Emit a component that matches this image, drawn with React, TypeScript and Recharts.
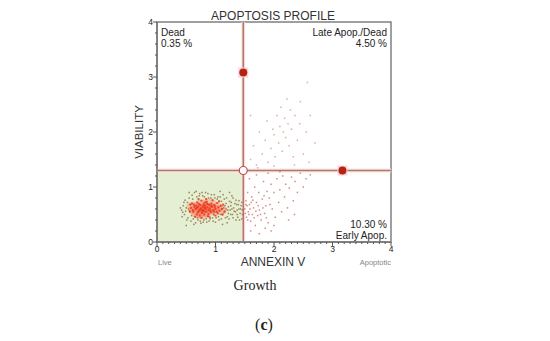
import React from "react";
import {
  ScatterChart,
  Scatter,
  XAxis,
  YAxis,
  ReferenceLine,
  ReferenceArea,
} from "recharts";

// ---- data ----
const gateX = 1.475;
const gateY = 1.3;

const quadrantLabels = {
  ul: ["Dead", "0.35 %"],
  ur: ["Late Apop./Dead", "4.50 %"],
  ll: ["84.85 %", "Live"],
  lr: ["10.30 %", "Early Apop."],
};

const coreBlobs = [
  [0.72, 0.62], [0.8, 0.6], [0.88, 0.62], [0.66, 0.58], [0.76, 0.68],
  [0.84, 0.54], [0.95, 0.6], [0.7, 0.52], [1.02, 0.62], [0.62, 0.64],
  [0.9, 0.7], [1.08, 0.58], [0.78, 0.5],
];

const corePoints = [
  [0.58, 0.62], [0.62, 0.55], [0.63, 0.68], [0.66, 0.6], [0.68, 0.5], [0.69, 0.72],
  [0.7, 0.64], [0.72, 0.57], [0.73, 0.48], [0.74, 0.67], [0.75, 0.61], [0.76, 0.75],
  [0.77, 0.53], [0.78, 0.63], [0.79, 0.58], [0.8, 0.7], [0.81, 0.5], [0.82, 0.66],
  [0.83, 0.6], [0.84, 0.55], [0.85, 0.73], [0.86, 0.63], [0.87, 0.47], [0.88, 0.58],
  [0.89, 0.68], [0.9, 0.61], [0.92, 0.54], [0.93, 0.7], [0.94, 0.64], [0.96, 0.58],
  [0.97, 0.5], [0.98, 0.67], [1.0, 0.6], [1.02, 0.55], [1.03, 0.71], [1.05, 0.63],
  [1.07, 0.57], [1.09, 0.66], [0.6, 0.7], [0.65, 0.46], [0.71, 0.78], [0.76, 0.44],
  [0.84, 0.78], [0.9, 0.45], [0.95, 0.76], [1.0, 0.48], [0.64, 0.64], [0.7, 0.54],
  [0.8, 0.56], [0.88, 0.51], [0.72, 0.69], [0.79, 0.66], [0.67, 0.66], [0.74, 0.59],
  [0.82, 0.62], [0.86, 0.69], [0.91, 0.57], [0.99, 0.64], [1.04, 0.52], [1.11, 0.6],
  [0.61, 0.58], [0.68, 0.62], [0.77, 0.57], [0.83, 0.72], [0.92, 0.66], [0.97, 0.55],
  [1.13, 0.68], [1.15, 0.55], [1.12, 0.5], [0.56, 0.56], [0.57, 0.68], [1.06, 0.74],
];

const outerPoints = [
  [0.42, 0.58], [0.45, 0.66], [0.47, 0.5], [0.5, 0.62], [0.52, 0.72], [0.53, 0.44],
  [0.55, 0.8], [0.56, 0.54], [0.58, 0.38], [0.6, 0.85], [0.62, 0.42], [0.64, 0.9],
  [0.66, 0.35], [0.68, 0.82], [0.7, 0.4], [0.73, 0.88], [0.75, 0.34], [0.78, 0.84],
  [0.8, 0.4], [0.83, 0.9], [0.85, 0.36], [0.88, 0.8], [0.91, 0.42], [0.93, 0.86],
  [0.96, 0.38], [0.99, 0.8], [1.01, 0.44], [1.04, 0.82], [1.06, 0.4], [1.1, 0.74],
  [1.12, 0.5], [1.14, 0.62], [1.16, 0.56], [1.18, 0.7], [1.2, 0.46], [1.22, 0.64],
  [1.25, 0.58], [1.27, 0.72], [1.29, 0.5], [1.31, 0.62], [1.34, 0.55], [1.36, 0.68],
  [1.38, 0.45], [1.4, 0.6], [1.42, 0.52], [1.44, 0.66], [1.46, 0.58], [1.15, 0.78],
  [1.2, 0.35], [1.3, 0.8], [1.35, 0.4], [1.24, 0.9], [0.5, 0.3], [1.08, 0.92],
  [0.48, 0.76], [1.12, 0.32], [1.4, 0.75], [1.45, 0.42], [1.18, 0.6], [1.28, 0.6],
  [1.33, 0.7], [1.22, 0.52], [1.37, 0.58], [0.44, 0.54], [0.57, 0.68],
  [0.4, 0.62], [0.43, 0.46], [0.46, 0.72], [0.49, 0.56], [0.51, 0.4], [0.54, 0.6],
  [0.55, 0.9], [0.59, 0.48], [0.61, 0.78], [0.63, 0.32], [0.67, 0.92], [0.69, 0.44],
  [0.72, 0.84], [0.74, 0.38], [0.77, 0.9], [0.79, 0.36], [0.81, 0.82], [0.84, 0.42],
  [0.87, 0.88], [0.89, 0.38], [0.92, 0.8], [0.95, 0.44], [0.98, 0.86], [1.0, 0.36],
  [1.03, 0.78], [1.05, 0.46], [1.08, 0.82], [1.1, 0.42], [1.13, 0.86], [1.17, 0.44],
  [1.19, 0.8], [1.21, 0.58], [1.23, 0.42], [1.26, 0.66], [1.28, 0.84], [1.3, 0.44],
  [1.32, 0.56], [1.35, 0.76], [1.37, 0.5], [1.39, 0.68], [1.41, 0.4], [1.43, 0.6],
  [1.45, 0.72], [1.46, 0.5], [1.26, 0.5], [1.16, 0.66], [1.09, 0.5], [1.24, 0.74],
];

const lowerRightPoints = [
  [1.5, 0.6], [1.52, 0.75], [1.53, 0.45], [1.55, 0.9], [1.56, 0.55], [1.58, 0.68],
  [1.6, 0.38], [1.62, 0.82], [1.63, 0.5], [1.65, 0.62], [1.67, 1.0], [1.68, 0.3],
  [1.7, 0.72], [1.72, 0.48], [1.74, 0.9], [1.75, 0.58], [1.78, 0.4], [1.8, 0.78],
  [1.82, 1.1], [1.84, 0.52], [1.86, 0.66], [1.88, 0.92], [1.9, 0.35], [1.92, 0.8],
  [1.95, 1.05], [1.97, 0.6], [2.0, 0.9], [2.02, 0.45], [2.05, 1.15], [2.08, 0.72],
  [2.1, 0.95], [2.13, 0.55], [2.15, 1.2], [2.18, 0.82], [2.2, 1.05], [2.23, 0.62],
  [2.26, 0.98], [2.3, 1.18], [2.33, 0.75], [2.36, 1.1], [2.4, 0.9], [2.45, 1.25],
  [2.5, 1.0], [2.55, 1.15], [2.62, 1.22], [1.6, 0.2], [1.75, 0.15], [1.85, 0.25],
  [2.0, 0.3], [1.58, 1.15], [1.7, 1.22], [1.9, 1.25], [2.1, 1.28], [2.35, 0.5],
  [1.95, 0.2], [2.25, 0.4], [1.54, 0.66], [1.57, 0.5], [1.61, 0.72], [1.66, 0.44],
  [1.51, 0.52], [1.52, 0.68], [1.55, 0.4], [1.59, 0.6], [1.64, 0.76], [1.69, 0.56],
  [1.73, 0.66], [1.77, 0.5], [1.81, 0.62], [1.83, 0.84], [1.87, 0.44], [1.93, 0.68],
];

const upperRightPoints = [
  [1.6, 1.5], [1.65, 1.75], [1.7, 1.4], [1.75, 2.0], [1.8, 1.6], [1.85, 1.85],
  [1.88, 2.2], [1.9, 1.45], [1.95, 1.7], [1.98, 2.05], [2.0, 1.95], [2.02, 1.55],
  [2.05, 2.3], [2.08, 1.8], [2.1, 2.1], [2.12, 2.45], [2.14, 1.65], [2.16, 2.0],
  [2.18, 2.25], [2.2, 1.9], [2.22, 2.6], [2.24, 2.15], [2.26, 1.75], [2.28, 2.4],
  [2.3, 2.05], [2.33, 1.55], [2.36, 2.3], [2.4, 1.85], [2.44, 2.15], [2.5, 1.6],
  [2.55, 2.0], [2.6, 1.45], [2.57, 2.9], [2.62, 2.3], [1.72, 1.35], [2.0, 1.38],
  [2.35, 1.4], [1.6, 2.3], [2.7, 1.8], [2.45, 2.55],
];

const filledGateMarkers = [
  [gateX, 3.08],
  [3.17, gateY],
];
const openGateMarker = [[gateX, gateY]];

const toObj = (arr: number[][]) => arr.map(([x, y]) => ({ x, y }));

const xAllTicks = Array.from({ length: 41 }, (_, i) => i / 10);
const yAllTicks = Array.from({ length: 21 }, (_, i) => (i * 2) / 10);

const FONT = "'Liberation Sans', Arial, sans-serif";
const LINE = "#b07a62";
const HALO = "#fde3ea";

const dotShape = (color: string, size: number, opacity = 1) => (props: any) => {
  const { cx, cy } = props;
  return (
    <rect
      x={cx - size / 2}
      y={cy - size / 2}
      width={size}
      height={size}
      fill={color}
      fillOpacity={opacity}
    />
  );
};

const blobShape = (props: any) => {
  const { cx, cy } = props;
  return <ellipse cx={cx} cy={cy} rx={7} ry={5} fill="#ff6040" fillOpacity={0.3} />;
};

const filledMarker = (props: any) => {
  const { cx, cy } = props;
  return (
    <g>
      <rect x={cx - 5} y={cy - 5} width={10} height={10} fill="#fcd2e0" />
      <circle cx={cx} cy={cy} r={4} fill="#b3260e" />
    </g>
  );
};

const openMarker = (props: any) => {
  const { cx, cy } = props;
  return <circle cx={cx} cy={cy} r={4} fill="#fff" stroke="#c0504a" strokeWidth={1.2} />;
};

const XTick = (props: any) => {
  const { x, y, payload } = props;
  const v = payload.value;
  const major = Math.abs(v - Math.round(v)) < 1e-6;
  return (
    <g>
      <line x1={x} y1={y} x2={x} y2={y + (major ? 4 : 2)} stroke="#555" strokeWidth={1} />
      {major && (
        <text x={x} y={y + 10} textAnchor="middle" fontSize={8.5} fontFamily={FONT} fill="#222">
          {Math.round(v)}
        </text>
      )}
    </g>
  );
};

const YTick = (props: any) => {
  const { x, y, payload } = props;
  const v = payload.value;
  const major = Math.abs(v - Math.round(v)) < 1e-6;
  return (
    <g>
      <line x1={x} y1={y} x2={x - (major ? 4 : 2)} y2={y} stroke="#555" strokeWidth={1} />
      {major && (
        <text x={x - 4} y={y + 3} textAnchor="end" fontSize={8.5} fontFamily={FONT} fill="#222">
          {Math.round(v)}
        </text>
      )}
    </g>
  );
};

export default function App() {
  return (
    <div style={{ position: "absolute", left: 0, top: 0, width: 550, height: 341, background: "#fff" }}>
      <ScatterChart
        width={550}
        height={341}
        margin={{ top: 22, right: 159, bottom: 79, left: 127 }}
      >
        <XAxis
          type="number"
          dataKey="x"
          domain={[0, 4]}
          ticks={xAllTicks}
          interval={0}
          tick={<XTick />}
          tickLine={false}
          tickSize={0}
          tickMargin={0}
          axisLine={{ stroke: "#777", strokeWidth: 1.5 }}
          height={20}
        />
        <YAxis
          type="number"
          dataKey="y"
          domain={[0, 4]}
          ticks={yAllTicks}
          interval={0}
          tick={<YTick />}
          tickLine={false}
          tickSize={0}
          tickMargin={0}
          axisLine={{ stroke: "#777", strokeWidth: 1.5 }}
          width={30}
        />
        <ReferenceArea x1={0} x2={gateX} y1={0} y2={gateY} fill="#e5efd3" fillOpacity={1} stroke="none" />
        <ReferenceArea x1={0} x2={4} y1={0} y2={4} fill="none" stroke="#808080" strokeWidth={1.5} />

        <Scatter data={toObj(outerPoints)} shape={dotShape("#8a6a3a", 1.5, 0.8)} isAnimationActive={false} />
        <Scatter data={toObj(coreBlobs)} shape={blobShape} isAnimationActive={false} />
        <Scatter data={toObj(corePoints)} shape={dotShape("#e8361e", 2, 0.85)} isAnimationActive={false} />
        <Scatter data={toObj(lowerRightPoints)} shape={dotShape("#cc5a50", 1.5, 0.7)} isAnimationActive={false} />
        <Scatter data={toObj(upperRightPoints)} shape={dotShape("#c87a70", 1.5, 0.6)} isAnimationActive={false} />

        <ReferenceLine x={gateX} stroke={HALO} strokeWidth={4} />
        <ReferenceLine y={gateY} stroke={HALO} strokeWidth={4} />
        <ReferenceLine x={gateX} stroke={LINE} strokeWidth={1.6} />
        <ReferenceLine y={gateY} stroke={LINE} strokeWidth={1.6} />

        <Scatter data={toObj(filledGateMarkers)} shape={filledMarker} isAnimationActive={false} />
        <Scatter data={toObj(openGateMarker)} shape={openMarker} isAnimationActive={false} />

        <text x={273} y={20} textAnchor="middle" fontSize={12} fontFamily={FONT} fill="#333">
          APOPTOSIS PROFILE
        </text>
        <text x={161} y={36} fontSize={10} fontFamily={FONT} fill="#222">{quadrantLabels.ul[0]}</text>
        <text x={161} y={47} fontSize={10} fontFamily={FONT} fill="#222">{quadrantLabels.ul[1]}</text>
        <text x={387} y={36} textAnchor="end" fontSize={10} fontFamily={FONT} fill="#222">{quadrantLabels.ur[0]}</text>
        <text x={387} y={47} textAnchor="end" fontSize={10} fontFamily={FONT} fill="#222">{quadrantLabels.ur[1]}</text>
        <text x={161} y={228} fontSize={10} fontFamily={FONT} fill="#222">{quadrantLabels.ll[0]}</text>
        <text x={161} y={239} fontSize={10} fontFamily={FONT} fill="#222">{quadrantLabels.ll[1]}</text>
        <text x={387} y={228} textAnchor="end" fontSize={10} fontFamily={FONT} fill="#222">{quadrantLabels.lr[0]}</text>
        <text x={387} y={239} textAnchor="end" fontSize={10} fontFamily={FONT} fill="#222">{quadrantLabels.lr[1]}</text>

        <text
          x={143}
          y={132}
          textAnchor="middle"
          fontSize={11.5}
          fontFamily={FONT}
          fill="#333"
          transform="rotate(-90 143 132)"
        >
          VIABILITY
        </text>
        <text x={273} y={266} textAnchor="middle" fontSize={12} fontFamily={FONT} fill="#333">
          ANNEXIN V
        </text>
        <text x={158} y={265} fontSize={7.5} fontFamily={FONT} fill="#888">Live</text>
        <text x={391} y={265} textAnchor="end" fontSize={7.5} fontFamily={FONT} fill="#888">Apoptotic</text>

        <text x={255} y={290} textAnchor="middle" fontSize={14} fontFamily="'Liberation Serif', serif" fill="#222">
          Growth
        </text>
        <text x={264} y={330} textAnchor="middle" fontSize={16} fontFamily="'Liberation Serif', serif" fill="#222">
          (<tspan fontWeight="bold">c</tspan>)
        </text>
      </ScatterChart>
    </div>
  );
}
